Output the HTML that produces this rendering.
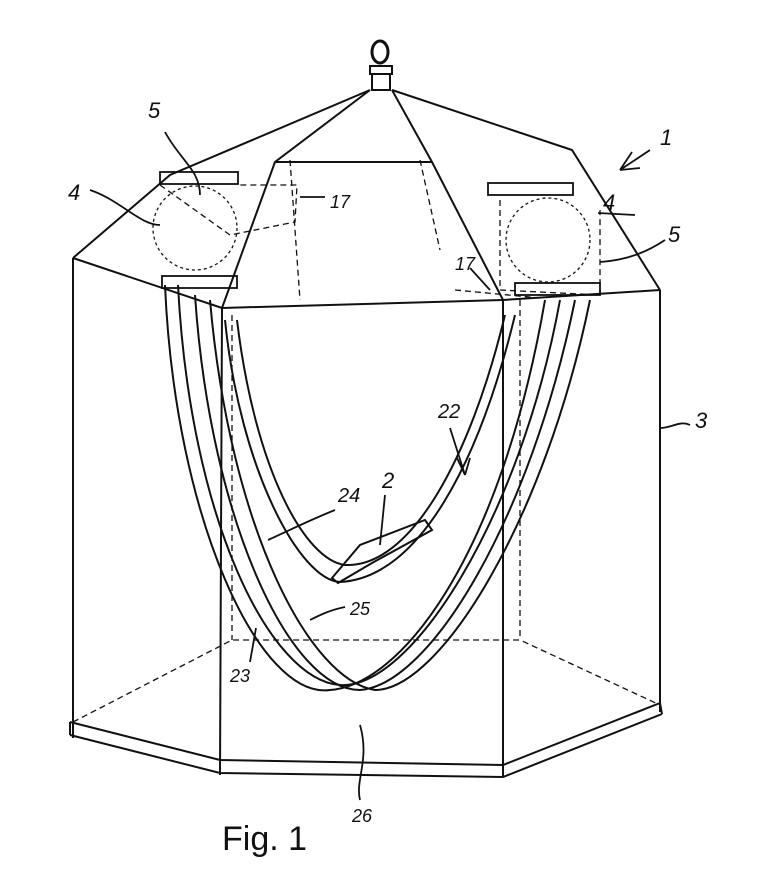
<!DOCTYPE html>
<html><head><style>
html,body{margin:0;padding:0;background:#fff;}
svg{display:block;}
text{font-family:"Liberation Sans",sans-serif;font-style:italic;fill:#111;}
</style></head><body>
<svg width="768" height="876" viewBox="0 0 768 876" xmlns="http://www.w3.org/2000/svg">
<g fill="none" stroke="#111" stroke-width="2">
<ellipse cx="380" cy="52" rx="8" ry="11" stroke-width="3"/>
<rect x="370" y="66" width="22" height="8"/>
<rect x="372" y="74" width="18" height="16"/>
<path d="M73,258 L170,175 L370,90"/>
<path d="M392,90 L572,150 L660,290"/>
<path d="M370,90 L275,162 L222,308"/>
<path d="M392,90 L432,162 L503,300"/>
<path d="M275,162 L432,162"/>
<path d="M73,258 L222,308 L503,300 L660,290"/>
<path d="M73,258 L73,738"/>
<path d="M222,308 L220,775"/>
<path d="M503,300 L503,777"/>
<path d="M660,290 L660,712"/>
<path d="M70,722 L220,760 L503,765 L660,703"/>
<path d="M70,735 L220,773 L503,777 L662,714"/>
<path d="M70,722 L70,735 M660,703 L662,714"/>
<path d="M165,285 C175,520 260,700 330,690 C400,685 500,560 545,300"/>
<path d="M178,285 C190,520 270,680 340,685 C410,690 520,520 560,300"/>
<path d="M195,295 C210,520 290,690 360,690 C430,685 530,520 575,300"/>
<path d="M210,300 C230,530 310,680 375,690 C440,690 545,520 590,300"/>
<path d="M225,320 C240,470 300,580 340,582 C420,578 480,460 515,315"/>
<path d="M237,320 C255,470 305,560 345,565 C410,568 470,460 505,315"/>
<path d="M332,578 L360,545 L425,520 L432,530 L372,563 L338,583 Z"/>
</g>
<g fill="none" stroke="#111" stroke-width="1.3" stroke-dasharray="6,4">
<path d="M73,722 L232,640 L520,640 L660,705"/>
<path d="M232,315 L232,640"/>
<path d="M520,300 L520,640"/>
<path d="M290,160 L300,300"/>
<path d="M420,160 L440,250"/>
<path d="M160,185 L230,235 L295,222 L297,185 L240,185"/>
<path d="M500,200 L500,290 L600,295 L600,210"/>
<path d="M455,290 L540,298"/>
<circle cx="195" cy="228" r="42" stroke-dasharray="3,3"/>
<circle cx="548" cy="240" r="42" stroke-dasharray="3,3"/>
</g>
<g fill="none" stroke="#111" stroke-width="1.8">
<rect x="160" y="172" width="78" height="12"/>
<rect x="162" y="276" width="75" height="12"/>
<rect x="488" y="183" width="85" height="12"/>
<rect x="515" y="283" width="85" height="12"/>
<path d="M165,132 C180,160 200,170 200,195"/>
<path d="M90,190 C120,200 140,225 160,225"/>
<path d="M300,197 L325,197"/>
<path d="M598,213 L635,215"/>
<path d="M600,262 C630,260 650,250 665,240"/>
<path d="M470,268 L490,290"/>
<path d="M620,170 L650,150 M620,170 L632,152 M620,170 L640,168"/>
<path d="M690,425 C680,420 672,428 660,428"/>
<path d="M450,428 L465,475 M465,475 L457,458 M465,475 L470,458"/>
<path d="M335,510 C310,520 290,530 268,540"/>
<path d="M385,495 L380,545"/>
<path d="M345,607 C330,610 320,615 310,620"/>
<path d="M250,662 L256,628"/>
<path d="M360,800 C355,780 370,760 360,725"/>
</g>
<g font-size="22">
<text x="148" y="118">5</text>
<text x="68" y="200">4</text>
<text x="330" y="208" font-size="18">17</text>
<text x="660" y="145">1</text>
<text x="603" y="210">4</text>
<text x="668" y="242">5</text>
<text x="455" y="270" font-size="18">17</text>
<text x="695" y="428">3</text>
<text x="438" y="418" font-size="20">22</text>
<text x="338" y="502" font-size="20">24</text>
<text x="382" y="488">2</text>
<text x="350" y="615" font-size="18">25</text>
<text x="230" y="682" font-size="18">23</text>
<text x="352" y="822" font-size="18">26</text>
</g>
<text x="222" y="850" font-size="34" style="font-style:normal">Fig. 1</text>
</svg>
</body></html>
